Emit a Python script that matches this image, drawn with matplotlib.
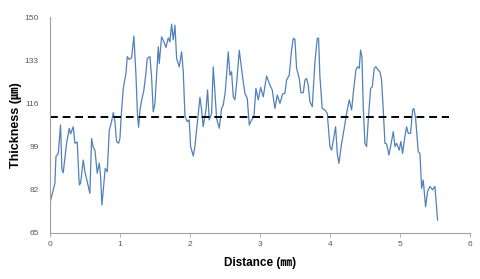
#!/usr/bin/env python3
"""Thickness profile along distance with mean reference line."""

import matplotlib
matplotlib.use("Agg")
import matplotlib.pyplot as plt

distance = [
    0.0, 0.024, 0.071, 0.086, 0.119, 0.152, 0.171, 0.190, 0.238, 0.276,
    0.295, 0.333, 0.357, 0.390, 0.419, 0.438, 0.476, 0.500, 0.533, 0.571,
    0.595, 0.619, 0.643, 0.676, 0.705, 0.724, 0.743, 0.771, 0.790, 0.819,
    0.848, 0.881, 0.905, 0.929, 0.952, 0.981, 1.0, 1.024, 1.048, 1.086,
    1.105, 1.133, 1.167, 1.2, 1.229, 1.252, 1.267, 1.286, 1.314, 1.343,
    1.371, 1.390, 1.429, 1.452, 1.476, 1.5, 1.524, 1.548, 1.562, 1.595,
    1.629, 1.657, 1.690, 1.714, 1.738, 1.762, 1.786, 1.810, 1.848, 1.881,
    1.905, 1.929, 1.962, 1.990, 2.010, 2.048, 2.071, 2.105, 2.143, 2.167,
    2.190, 2.229, 2.252, 2.276, 2.310, 2.333, 2.357, 2.381, 2.419, 2.452,
    2.476, 2.505, 2.548, 2.571, 2.595, 2.619, 2.643, 2.667, 2.705,
    2.752, 2.786, 2.819, 2.848, 2.881, 2.914, 2.943, 2.976, 3.010, 3.048,
    3.095, 3.143, 3.176, 3.214, 3.248, 3.286, 3.324, 3.357, 3.381, 3.419,
    3.452, 3.476, 3.5, 3.524, 3.562, 3.586, 3.619, 3.643, 3.667, 3.690,
    3.714, 3.748, 3.786, 3.819, 3.838, 3.857, 3.890, 3.929, 3.962, 4.0,
    4.024, 4.057, 4.081, 4.105, 4.129, 4.167, 4.2, 4.238, 4.276, 4.310,
    4.333, 4.371, 4.395, 4.419, 4.438, 4.457, 4.476, 4.5, 4.524, 4.548,
    4.581, 4.605, 4.633, 4.657, 4.690, 4.714, 4.738, 4.762, 4.786, 4.810,
    4.843, 4.871, 4.905, 4.929, 4.952, 4.990, 5.014, 5.038, 5.071, 5.095,
    5.119, 5.152, 5.181, 5.2, 5.224, 5.262, 5.286, 5.310, 5.333, 5.367,
    5.395, 5.429, 5.467, 5.5, 5.524, 5.538,
]
thickness = [
    76.7, 79.3, 84.5, 95.0, 96.3, 107.5, 90.0, 88.7, 100.3, 106.2,
    104.0, 106.8, 100.3, 100.8, 83.9, 84.5, 93.7, 89.1, 85.2, 80.6,
    102.2, 98.7, 97.6, 88.5, 92.5, 87.2, 76.0, 84.5, 90.4, 89.1,
    105.5, 108.8, 112.4, 108.8, 101.0, 100.3, 102.2, 113.4, 121.9, 127.8,
    134.4, 133.3, 134.0, 142.5, 127.2, 110.8, 106.6, 113.4, 117.6, 121.3,
    127.8, 133.7, 134.4, 126.5, 112.7, 116.0, 127.1, 138.3, 131.7, 142.2,
    140.2, 138.0, 141.8, 140.2, 147.2, 141.0, 146.8, 133.7, 130.4, 136.3,
    128.5, 111.0, 108.8, 109.5, 99.0, 95.3, 99.0, 108.2, 118.4, 113.4,
    106.8, 113.4, 121.3, 109.5, 112.1, 130.4, 120.6, 110.1, 106.2, 114.0,
    115.3, 120.6, 136.3, 127.1, 128.5, 118.6, 117.4, 123.9, 136.9,
    126.5, 119.9, 118.0, 107.5, 109.5, 110.8, 121.9, 117.4, 122.3, 118.6,
    126.8, 123.2, 121.3, 114.0, 119.3, 116.0, 119.7, 119.9, 125.2, 127.1,
    137.0, 141.6, 141.2, 129.8, 125.8, 120.2, 120.2, 125.2, 125.8, 123.2,
    116.6, 114.7, 132.4, 141.6, 141.6, 126.5, 114.0, 113.4, 112.1, 99.0,
    97.6, 102.9, 106.8, 96.3, 92.4, 100.3, 105.5, 112.1, 117.4, 113.4,
    119.9, 129.1, 130.4, 129.8, 137.0, 134.4, 114.7, 100.3, 99.0, 109.5,
    121.9, 122.5, 129.8, 130.4, 129.1, 128.5, 125.2, 113.4, 100.3, 100.1,
    95.7, 99.7, 104.9, 99.0, 100.3, 97.6, 101.0, 96.3, 102.9, 106.8,
    104.2, 104.2, 113.4, 114.0, 110.1, 97.0, 96.3, 82.6, 85.8, 75.3,
    81.3, 83.3, 82.0, 83.3, 74.7, 70.1,
]
mean_level = 110.8
mean_span = [0.0, 5.7]

x_ticks = [0, 1, 2, 3, 4, 5, 6]
y_ticks = [65, 82, 99, 116, 133, 150]

GRAY = "#595959"
FONTS = ["Liberation Sans", "Noto Sans CJK KR", "DejaVu Sans"]


def main() -> int:
    fig = plt.figure(figsize=(4.8, 2.79), dpi=100)
    ax = fig.add_axes([0.104, 0.165, 0.875, 0.774])

    ax.plot(distance, thickness, color="#4F81BD", linewidth=0.9)
    ax.plot(mean_span, [mean_level, mean_level], color="black",
            linewidth=1.4, linestyle=(0, (4, 2.5)))

    ax.set_xlim(0, 6)
    ax.set_ylim(65, 150)
    ax.set_xticks(x_ticks)
    ax.set_yticks(y_ticks)
    for side in ("top", "right"):
        ax.spines[side].set_visible(False)
    for side in ("left", "bottom"):
        ax.spines[side].set_color("#A0A0A0")
        ax.spines[side].set_linewidth(0.8)
    ax.tick_params(axis="x", length=3, width=0.6, color="#A0A0A0",
                   labelsize=6, labelcolor=GRAY, pad=3)
    ax.tick_params(axis="y", length=0, labelsize=6, labelcolor=GRAY, pad=8)
    for label in ax.get_xticklabels() + ax.get_yticklabels():
        label.set_family(FONTS)

    ax.set_xlabel("Distance (㎜)", fontsize=8.5, fontweight="bold",
                  family=FONTS, labelpad=6)
    ax.set_ylabel("Thickness (㎛)", fontsize=9, fontweight="bold",
                  family=FONTS, labelpad=2)

    fig.savefig("out.png", dpi=100)
    plt.close(fig)
    return 0


if __name__ == "__main__":
    raise SystemExit(main())
